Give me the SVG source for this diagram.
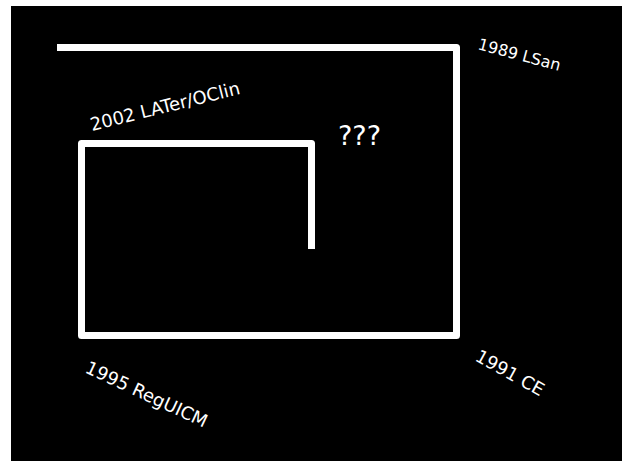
<svg xmlns="http://www.w3.org/2000/svg" width="622" height="461" viewBox="0 0 622 461">
<style>
.bg{fill:#000}
.line{fill:none;stroke:#fff;stroke-width:7;stroke-linejoin:round;stroke-linecap:butt}
.lbl{font-family:"DejaVu Sans",sans-serif;font-size:18px;fill:#fff}
</style>
<rect class="bg" x="11" y="6" width="611" height="455"/>
<g id="connectors">
<polyline class="line" points="57,47.5 456.5,47.5 456.5,335.5 81.5,335.5 81.5,143.5 311.5,143.5 311.5,249"/>
</g>
<g id="n1989"><text class="lbl" transform="translate(477,49) rotate(15)" style="font-size:16px">1989 LSan</text></g>
<g id="n2002"><text class="lbl" transform="translate(92,131) rotate(-14)">2002 LATer/OClin</text></g>
<g id="nq"><text class="lbl" x="338" y="145" style="font-size:27px">???</text></g>
<g id="n1991"><text class="lbl" transform="translate(474,360) rotate(29)">1991 CE</text></g>
<g id="n1995"><text class="lbl" transform="translate(84,372) rotate(25)">1995 RegUICM</text></g>
</svg>
